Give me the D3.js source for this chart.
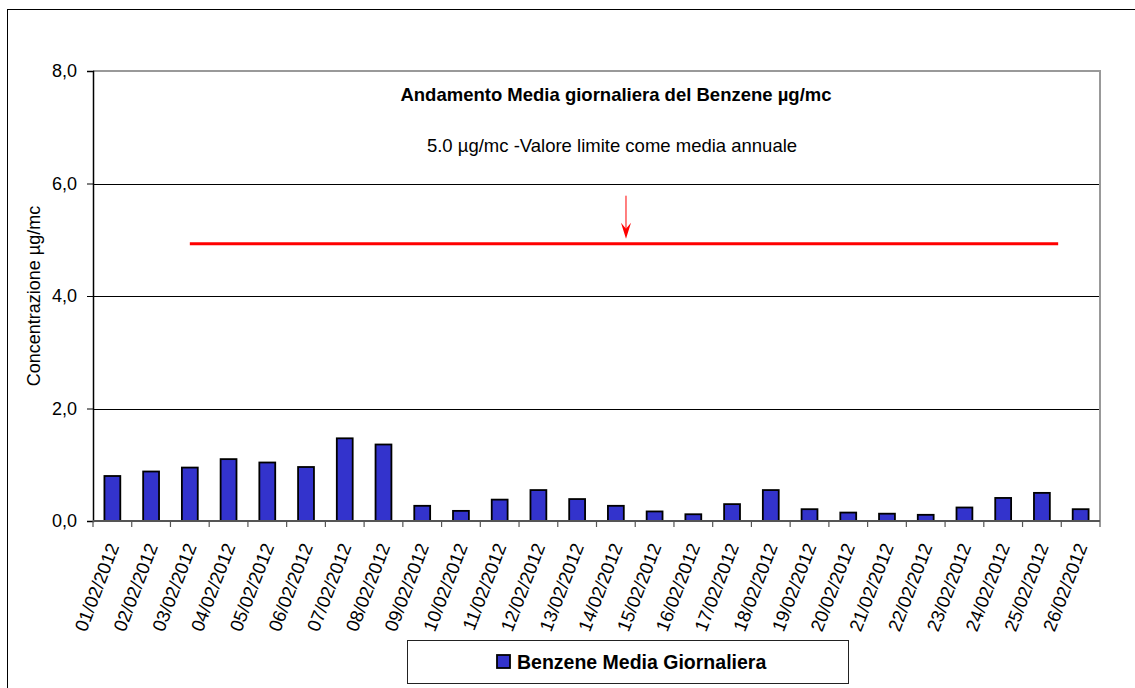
<!DOCTYPE html>
<html>
<head>
<meta charset="utf-8">
<script src="https://cdn.jsdelivr.net/npm/d3@7"></script>
<style>
  body { margin: 0; background: #fff; }
  svg { font-family: Arial, "Liberation Sans", sans-serif; display: block; }
</style>
</head>
<body>
<svg id="chart" width="1135" height="688"></svg>
<script>
// data
const dates = [
  "01/02/2012", "02/02/2012", "03/02/2012", "04/02/2012", "05/02/2012",
  "06/02/2012", "07/02/2012", "08/02/2012", "09/02/2012", "10/02/2012",
  "11/02/2012", "12/02/2012", "13/02/2012", "14/02/2012", "15/02/2012",
  "16/02/2012", "17/02/2012", "18/02/2012", "19/02/2012", "20/02/2012",
  "21/02/2012", "22/02/2012", "23/02/2012", "24/02/2012", "25/02/2012",
  "26/02/2012"
];
const benzene = [
  0.80, 0.88, 0.95, 1.10, 1.04, 0.96, 1.47, 1.36, 0.27, 0.18,
  0.38, 0.55, 0.39, 0.27, 0.17, 0.12, 0.30, 0.55, 0.21, 0.15,
  0.13, 0.11, 0.24, 0.41, 0.50, 0.21
];
const yTicks = [0, 2, 4, 6, 8];
const limitValue = 4.93; // drawn limit line (labelled 5.0)
const limitFrom = "03/02/2012";
const limitTo = "25/02/2012";

const margin = { top: 71, right: 35, bottom: 167, left: 93 };
const svg = d3.select("#chart");
const width = +svg.attr("width");
const height = +svg.attr("height");
const innerWidth = width - margin.left - margin.right;
const innerHeight = height - margin.top - margin.bottom;

// outer frame
svg.append("rect")
  .attr("x", 7.5).attr("y", 9.5)
  .attr("width", width).attr("height", height)
  .attr("fill", "none").attr("stroke", "#000").attr("stroke-width", 1);

const g = svg.append("g")
  .attr("transform", `translate(${margin.left},${margin.top})`);

const x = d3.scaleBand().domain(dates).range([0, innerWidth]);
const y = d3.scaleLinear().domain([0, 8]).range([innerHeight, 0]);

// gridlines
g.selectAll(".grid")
  .data(yTicks.filter((d) => d > 0 && d < 8))
  .enter()
  .append("line")
  .attr("x1", 0).attr("x2", innerWidth)
  .attr("y1", (d) => Math.round(y(d)) + 0.5)
  .attr("y2", (d) => Math.round(y(d)) + 0.5)
  .attr("stroke", "#000").attr("stroke-width", 1);

// plot frame top/right
g.append("path")
  .attr("d", `M0,${y(8)} H${innerWidth} V${innerHeight}`)
  .attr("fill", "none").attr("stroke", "#999").attr("stroke-width", 2);

// bars
const barW = x.bandwidth() * 0.41;
g.selectAll(".bar")
  .data(benzene)
  .enter()
  .append("rect")
  .attr("x", (d, i) => x(dates[i]) + (x.bandwidth() - barW) / 2)
  .attr("y", (d) => y(d))
  .attr("width", barW)
  .attr("height", (d) => y(0) - y(d))
  .attr("fill", "#3333cc")
  .attr("stroke", "#000")
  .attr("stroke-width", 1.8);

// y axis
const yAxis = g.append("g")
  .call(d3.axisLeft(y).tickValues(yTicks).tickSize(6).tickPadding(10)
    .tickFormat((d) => d3.format(".1f")(d).replace(".", ",")));
yAxis.select(".domain").attr("stroke", "#000").attr("stroke-width", 1.5);
yAxis.selectAll("text").attr("font-size", 18).attr("fill", "#000");

// x axis
const xAxis = g.append("g").attr("transform", `translate(0,${innerHeight})`);
xAxis.append("line")
  .attr("x1", 0).attr("x2", innerWidth)
  .attr("stroke", "#555").attr("stroke-width", 2);
const bounds = dates.map((d) => x(d)).concat([innerWidth]);
xAxis.selectAll(".tick")
  .data(bounds)
  .enter()
  .append("line")
  .attr("x1", (d) => d).attr("x2", (d) => d)
  .attr("y1", 0).attr("y2", 6)
  .attr("stroke", "#555").attr("stroke-width", 1.2);
xAxis.selectAll(".lbl")
  .data(dates)
  .enter()
  .append("text")
  .attr("transform", (d) =>
    `translate(${x(d) + x.bandwidth() / 2 + 1},${23}) rotate(-69)`)
  .attr("text-anchor", "end")
  .attr("dy", "0.35em")
  .attr("font-size", 18.5)
  .text((d) => d);

// y label
g.append("text")
  .attr("transform", "rotate(-90)")
  .attr("x", -innerHeight / 2)
  .attr("y", -53)
  .attr("text-anchor", "middle")
  .attr("font-size", 18)
  .text("Concentrazione µg/mc");

// limit line
const lx1 = x(limitFrom) + x.bandwidth() / 2;
const lx2 = x(limitTo) + x.bandwidth() * 0.92;
g.append("line")
  .attr("x1", lx1).attr("x2", lx2)
  .attr("y1", y(limitValue)).attr("y2", y(limitValue))
  .attr("stroke", "#ff0000").attr("stroke-width", 3);

// arrow
const ax = (lx1 + lx2) / 2 + 2;
const ay1 = y(limitValue) - 48;
const ay2 = y(limitValue) - 5;
g.append("line")
  .attr("x1", ax).attr("x2", ax)
  .attr("y1", ay1).attr("y2", ay2 - 8)
  .attr("stroke", "#ff0000").attr("stroke-width", 1);
g.append("path")
  .attr("d", `M${ax - 5},${ay2 - 16} L${ax},${ay2 - 10} L${ax + 5},${ay2 - 16} L${ax},${ay2} Z`)
  .attr("fill", "#ff0000");

// titles
g.append("text")
  .attr("x", 616 - margin.left)
  .attr("y", 101 - margin.top)
  .attr("text-anchor", "middle")
  .attr("font-size", 18.5)
  .attr("font-weight", "bold")
  .text("Andamento Media giornaliera del Benzene µg/mc");
g.append("text")
  .attr("x", 612 - margin.left)
  .attr("y", 152 - margin.top)
  .attr("text-anchor", "middle")
  .attr("font-size", 18.5)
  .text("5.0  µg/mc -Valore limite come media annuale");

// legend
const legend = svg.append("g");
legend.append("rect")
  .attr("x", 407.5).attr("y", 640.5)
  .attr("width", 441).attr("height", 43)
  .attr("fill", "#fff").attr("stroke", "#222").attr("stroke-width", 1);
legend.append("rect")
  .attr("x", 497).attr("y", 655)
  .attr("width", 13).attr("height", 13)
  .attr("fill", "#3333cc").attr("stroke", "#000").attr("stroke-width", 1.8);
legend.append("text")
  .attr("x", 517).attr("y", 669)
  .attr("font-size", 19.5)
  .attr("font-weight", "bold")
  .text("Benzene Media Giornaliera");
</script>
</body>
</html>
